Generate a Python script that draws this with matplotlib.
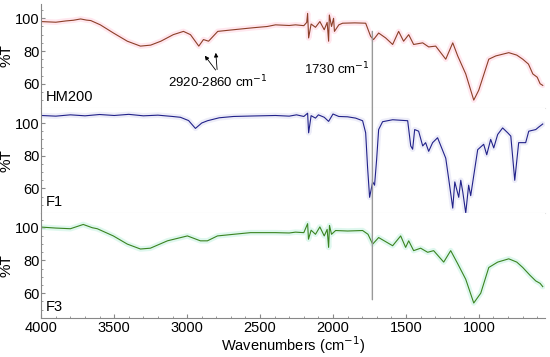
import numpy as np
import matplotlib.pyplot as plt
from matplotlib.patches import ConnectionPatch

plt.rcParams['font.family'] = ['Liberation Sans', 'DejaVu Sans']

# HM200 spectrum (wavenumber, %T)
hm_wn = [4000, 3900, 3830, 3780, 3730, 3690, 3660, 3595, 3505, 3410, 3320, 3250, 3180,
         3095, 3025, 2977, 2920, 2888, 2853, 2790, 2683, 2550, 2450, 2394, 2300, 2257,
         2200, 2180, 2174, 2167, 2150, 2120, 2090, 2060, 2040, 2030, 2025, 2010, 1996,
         1990, 1960, 1934, 1850, 1776, 1742, 1722, 1687, 1639, 1591, 1550, 1516, 1481,
         1447, 1385, 1344, 1296, 1227, 1179, 1145, 1090, 1035, 1001, 932, 884, 795,
         740, 699, 660, 630, 600, 580, 562]
hm_t = [98.0, 97.6, 98.4, 98.8, 99.6, 98.9, 98.6, 96.0, 91.0, 86.0, 83.0, 83.6, 86.0,
        90.0, 92.0, 90.0, 83.0, 87.0, 86.0, 92.0, 93.0, 94.2, 95.0, 96.0, 95.6, 96.0,
        95.5, 97.5, 103.0, 88.0, 96.5, 94.5, 98.0, 93.0, 97.5, 86.0, 102.0, 95.0, 100.0,
        92.0, 96.0, 97.0, 97.2, 97.0, 89.0, 87.0, 91.0, 88.0, 84.0, 92.0, 86.0, 90.0,
        84.0, 85.0, 82.5, 83.0, 75.0, 85.0, 77.0, 66.0, 50.0, 56.0, 75.0, 77.0, 79.0,
        77.5, 75.0, 72.0, 66.0, 64.0, 60.0, 59.0]

# F1 spectrum
f1_wn = [4000, 3900, 3800, 3700, 3600, 3500, 3400, 3300, 3200, 3100, 3046, 2990, 2943,
         2900, 2860, 2780, 2682, 2550, 2394, 2300, 2250, 2200, 2174, 2167, 2150, 2120,
         2100, 2060, 2030, 2000, 1960, 1900, 1845, 1797, 1776, 1763, 1749, 1728, 1715,
         1701, 1687, 1660, 1591, 1488, 1467, 1454, 1440, 1413, 1385, 1365, 1344, 1317,
         1283, 1227, 1207, 1179, 1165, 1138, 1124, 1110, 1090, 1070, 1056, 1008, 967,
         946, 919, 898, 871, 837, 802, 781, 754, 727, 679, 658, 610, 590, 562]
f1_t = [104.6, 104.2, 105.0, 104.4, 105.2, 104.6, 105.3, 104.4, 104.8, 104.0, 103.5, 101.5, 96.7,
        100.0, 101.4, 103.2, 104.0, 104.3, 104.6, 104.2, 105.0, 104.0, 106.0, 94.0, 104.5, 103.0,
        105.0, 103.5, 101.0, 105.5, 104.0, 103.8, 103.0, 101.4, 94.0, 73.0, 54.6, 64.0, 62.0,
        77.5, 96.0, 100.8, 102.0, 101.4, 86.0, 84.0, 96.0, 95.0, 86.0, 88.0, 82.7, 88.0,
        91.0, 78.5, 66.0, 48.0, 64.0, 54.6, 65.0, 57.7, 45.0, 62.0, 55.6, 83.7, 87.0,
        80.6, 90.0, 84.8, 93.0, 97.0, 94.0, 92.0, 65.0, 88.0, 88.0, 95.0, 96.0, 97.5, 99.4]

# F3 spectrum
f3_wn = [4000, 3900, 3800, 3712, 3650, 3616, 3506, 3410, 3320, 3252, 3135, 2998, 2909,
         2861, 2792, 2680, 2566, 2394, 2300, 2257, 2200, 2174, 2168, 2150, 2120, 2090,
         2060, 2040, 2030, 2024, 2010, 1982, 1900, 1797, 1760, 1728, 1687, 1591, 1536,
         1502, 1481, 1447, 1399, 1351, 1310, 1241, 1193, 1145, 1090, 1035, 987, 932,
         871, 795, 740, 699, 650, 610, 580, 562]
f3_t = [100.4, 99.8, 99.4, 102.0, 100.0, 99.4, 95.0, 90.0, 87.0, 87.5, 92.0, 95.0, 92.0,
        92.0, 95.0, 96.0, 97.0, 97.0, 96.8, 97.3, 97.0, 102.5, 93.0, 98.5, 96.0, 100.5,
        95.0, 99.0, 88.0, 101.4, 96.0, 98.3, 98.0, 98.3, 96.0, 90.0, 94.0, 89.0, 95.0,
        88.0, 92.0, 86.0, 87.5, 85.0, 86.0, 79.0, 86.0, 78.0, 68.5, 54.0, 60.0, 75.7,
        79.0, 81.0, 79.0, 75.7, 71.0, 67.5, 66.0, 64.0]

names = ['HM200', 'F1', 'F3']
spectra = [(hm_wn, hm_t), (f1_wn, f1_t), (f3_wn, f3_t)]
colors = ['#8c3f28', '#22228a', '#3a8420']
glows = ['#ffdde8', '#e6e6f6', '#d2f5e8']

fig, axes = plt.subplots(3, 1, sharex=True, figsize=(5.5, 3.57), dpi=100)
fig.subplots_adjust(left=0.075, right=0.99, top=0.99, bottom=0.11, hspace=0)

for i, ax in enumerate(axes):
    wn, t = spectra[i]
    ax.plot(wn, t, color=glows[i], lw=4, alpha=0.7, solid_capstyle='round')
    ax.plot(wn, t, color=colors[i], lw=0.8)
    ax.set_ylim(45, 109)
    ax.set_yticks([60, 80, 100])
    ax.set_yticks(np.arange(50, 110, 5), minor=True)
    ax.tick_params(axis='y', direction='in', length=3, labelsize=10.5, pad=1,
                   color='#888888')
    ax.tick_params(axis='y', which='minor', direction='in', length=1.5, color='#888888')
    ax.set_ylabel('%T', fontsize=11, labelpad=1)
    ax.text(0.008, 0.04, names[i], transform=ax.transAxes, fontsize=10.5,
            ha='left', va='bottom')
    for s in ['top', 'right']:
        ax.spines[s].set_visible(False)
    ax.spines['left'].set_color('#888888')
    if i < 2:
        ax.spines['bottom'].set_color('#e4e4e4')
        ax.tick_params(axis='x', which='both', length=0)

axes[2].set_xlim(4000, 550)
axes[2].set_xticks([4000, 3500, 3000, 2500, 2000, 1500, 1000])
axes[2].set_xticks(np.arange(600, 4000, 100), minor=True)
axes[2].tick_params(axis='x', direction='in', length=3, labelsize=10.5, pad=2,
                    color='#888888')
axes[2].tick_params(axis='x', which='minor', direction='in', length=1.5, color='#888888')
axes[2].spines['bottom'].set_color('#888888')
axes[2].set_xlabel('Wavenumbers (cm$^{-1}$)', fontsize=10.5, labelpad=0)

# vertical guide at 1730 cm-1 across all panels
con = ConnectionPatch(xyA=(1730, 92), coordsA=axes[0].transData,
                      xyB=(1730, 56), coordsB=axes[2].transData,
                      color='#999999', lw=1)
fig.add_artist(con)

axes[0].text(1750, 69, '1730 cm$^{-1}$', fontsize=9.5, ha='right', va='center')
axes[0].text(2790, 61, '2920-2860 cm$^{-1}$', fontsize=9.5, ha='center', va='center')
for tip in [(2890, 78.5), (2805, 80.6)]:
    axes[0].annotate('', xy=tip, xytext=(2793, 67),
                     arrowprops=dict(arrowstyle='-|>', color='black', lw=0.6,
                                     mutation_scale=6))

fig.savefig('out.png')
